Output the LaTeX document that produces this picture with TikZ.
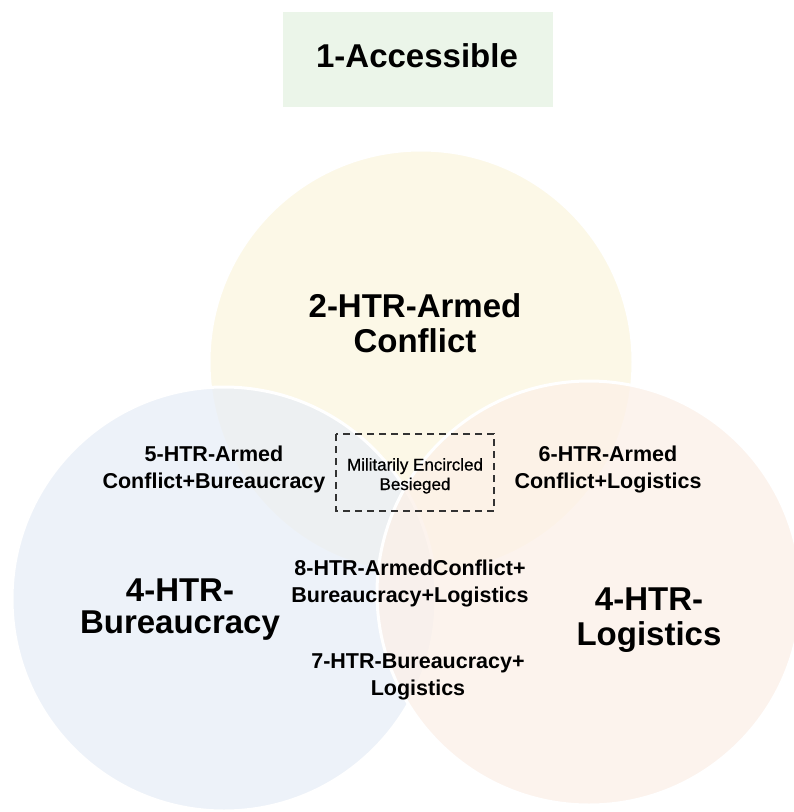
\documentclass[tikz,border=0pt]{standalone}
\usepackage{fontspec}
\setmainfont{Liberation Sans}
\newfontfamily\medfont{Liberation Sans}[FakeBold=0.6]
\definecolor{accfill}{HTML}{EBF5E9}
\definecolor{ycirc}{HTML}{FBF6E0}
\definecolor{bcirc}{HTML}{E8EEF7}
\definecolor{ocirc}{HTML}{FCF0E8}
\definecolor{dashc}{HTML}{333333}
\tikzset{
  venn/.style={draw=white, line width=3pt, fill opacity=0.75},
  biglabel/.style={align=center, anchor=base, font=\fontsize{33}{35}\selectfont\bfseries},
  midlabel/.style={align=center, anchor=base, font=\fontsize{21.5}{27}\selectfont\bfseries},
  smalllabel/.style={align=center, anchor=base, font=\medfont\fontsize{17}{19.5}\selectfont},
}
\begin{document}
\begin{tikzpicture}[x=1pt,y=-1pt]
\useasboundingbox (0,0) rectangle (794,812);
\clip (0,0) rectangle (794,812);
\fill[white] (0,0) rectangle (794,812);
% title box
\fill[accfill] (283,12) rectangle (553,107);
\node[biglabel] (acc) at (417,67) {1-Accessible};
% circles
\path[venn, fill=ycirc] (421,362) circle[radius=212];
\path[venn, fill=bcirc] (224,599) circle[radius=212];
\path[venn, fill=ocirc] (589,593) circle[radius=212];
% labels (anchor = baseline of last line)
\node[biglabel] (armed) at (415,352) {2-HTR-Armed\\Conflict};
\node[midlabel] (ab) at (214,488.5) {5-HTR-Armed\\Conflict+Bureaucracy};
\node[midlabel] (al) at (608,488) {6-HTR-Armed\\Conflict+Logistics};
\draw[dashc, line width=1.1pt, dash pattern=on 7pt off 5pt] (336,434) rectangle (494,511);
\node[smalllabel] (mil) at (415,490) {Militarily Encircled\\Besieged};
\node[midlabel] (abl) at (410,602) {8-HTR-ArmedConflict+\\Bureaucracy+Logistics};
\node[midlabel] (bl) at (418,695) {7-HTR-Bureaucracy+\\Logistics};
\node[biglabel, font=\fontsize{33}{31.5}\selectfont\bfseries] (bur) at (180,633) {4-HTR-\\Bureaucracy};
\node[biglabel] (log) at (649,645) {4-HTR-\\Logistics};
\end{tikzpicture}
\end{document}
